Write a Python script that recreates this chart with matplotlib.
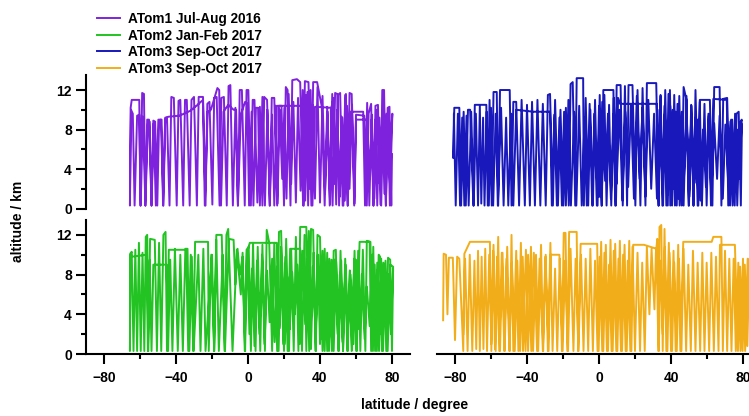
import matplotlib
matplotlib.use("Agg")
import matplotlib.pyplot as plt

plt.rcParams['font.family'] = ['Liberation Sans', 'DejaVu Sans']
plt.rcParams['font.weight'] = 'bold'

# ---------------- data: (latitude, altitude km) flight track vertices ----------------
atom1_track = [
    (80.0, 5.5), (79.6, 0.3), (78.6, 10.3), (77.6, 10.2), (76.6, 0.3), (75.6, 12.0), (74.6, 12.0),
    (73.6, 0.4), (72.2, 10.5), (70.8, 10.4), (69.8, 0.3), (68.4, 10.6), (67.0, 9.6), (66.0, 0.3),
    (64.6, 9.4), (60.0, 9.5), (59.0, 0.3), (57.6, 11.6), (56.4, 11.7), (55.4, 0.3), (54.0, 11.5),
    (52.6, 0.3), (51.2, 11.7), (50.0, 11.5), (49.0, 0.4), (47.6, 11.2), (46.4, 10.3), (45.4, 0.3),
    (44.0, 10.3), (42.6, 0.3), (41.0, 10.3), (38.4, 12.8), (36.2, 12.8), (35.2, 0.3), (33.6, 12.8),
    (31.6, 12.9), (30.6, 0.3), (29.0, 12.8), (27.2, 13.1), (24.6, 13.0), (23.6, 0.3), (22.0, 12.0),
    (21.0, 12.3), (20.0, 0.3), (18.6, 10.4), (17.2, 10.4), (16.2, 0.3), (14.6, 11.2), (13.2, 11.2),
    (12.2, 0.3), (10.6, 11.0), (9.0, 11.3), (8.0, 0.3), (6.6, 10.3), (5.2, 0.6), (3.6, 11.0),
    (2.6, 11.0), (1.6, 0.3), (0.2, 12.0), (-0.8, 12.0), (-1.8, 0.3), (-3.4, 12.0), (-4.6, 12.0),
    (-5.6, 0.3), (-7.0, 10.2), (-8.4, 0.3), (-9.8, 12.5), (-10.8, 12.4), (-11.8, 0.3), (-13.4, 11.3),
    (-14.8, 11.2), (-15.8, 0.3), (-17.4, 11.3), (-18.8, 11.2), (-19.8, 0.4), (-21.4, 10.8),
    (-22.6, 10.6), (-23.6, 0.3), (-25.0, 11.3), (-27.4, 11.3), (-28.4, 0.3), (-30.0, 11.3),
    (-31.4, 11.0), (-32.4, 0.3), (-34.0, 11.0), (-35.0, 11.0), (-36.0, 0.3), (-37.6, 11.0),
    (-38.6, 10.9), (-39.6, 0.3), (-41.2, 11.2), (-42.6, 11.3), (-43.6, 0.3), (-45.0, 9.2),
    (-46.0, 9.0), (-47.0, 0.3), (-48.4, 9.0), (-49.4, 8.8), (-50.4, 0.3), (-51.6, 8.8), (-52.6, 8.9),
    (-53.6, 0.3), (-55.0, 9.0), (-56.0, 9.0), (-57.0, 0.3), (-57.8, 11.6), (-58.8, 11.7),
    (-59.8, 0.3), (-60.4, 11.0), (-64.6, 11.0), (-65.2, 10.2), (-65.6, 0.3),
    (-65.0, 10.0), (-64.0, 9.6), (-63.0, 0.3), (-61.6, 9.4), (-60.4, 9.5), (-59.6, 0.3),
    (-58.4, 9.3), (-57.0, 0.3), (-55.6, 8.6), (-54.6, 8.8), (-53.6, 0.3), (-52.4, 8.6), (-51.2, 0.3),
    (-49.8, 9.0), (-48.0, 9.0), (-47.2, 0.3), (-46.0, 9.2), (-44.0, 9.3), (-38.0, 9.4), (-32.0, 9.9),
    (-28.0, 10.5), (-25.0, 11.0), (-24.0, 0.3), (-22.4, 9.8), (-20.6, 10.0), (-17.0, 12.2),
    (-16.0, 12.0), (-15.0, 0.3), (-13.6, 9.8), (-11.0, 10.5), (-8.0, 10.0), (-6.6, 10.0),
    (-5.6, 0.3), (-4.0, 9.5), (-1.6, 10.8), (-0.4, 10.6), (0.6, 0.3), (2.0, 9.8), (3.0, 0.3),
    (4.4, 10.2), (5.6, 10.2),
    (6.6, 0.3), (8.0, 11.3), (9.4, 0.3), (10.8, 10.0), (12.0, 0.3), (13.4, 9.5), (14.6, 0.3),
    (16.0, 10.4), (30.0, 10.4), (31.0, 0.3), (32.4, 11.5), (33.4, 0.3), (34.8, 12.0), (35.8, 0.3),
    (37.2, 10.3), (46.0, 10.2), (47.0, 0.3), (48.4, 11.7), (49.6, 11.6), (50.6, 0.3), (52.0, 9.3),
    (53.0, 0.3), (54.4, 11.6), (55.4, 0.3), (57.0, 9.8), (64.0, 9.8), (65.0, 0.3), (66.2, 10.7),
    (67.4, 0.3), (68.6, 9.0), (69.6, 0.3), (70.8, 9.0), (71.8, 0.3), (73.0, 9.2), (74.0, 0.3),
    (75.4, 11.9), (76.6, 0.3), (77.8, 9.8), (78.8, 0.3), (79.6, 8.0), (80.2, 9.6),
    (79.0, 2.0), (77.0, 9.6), (75.8, 1.5), (74.6, 9.4), (73.2, 2.5), (71.6, 10.0), (70.2, 1.0),
    (68.8, 9.5), (67.4, 3.0), (66.0, 9.0), (60.0, 9.0), (59.2, 0.5), (57.8, 10.5), (56.4, 2.0),
    (55.0, 10.4), (53.8, 0.8), (52.4, 9.2), (51.0, 1.2), (49.6, 10.0), (48.2, 2.5), (46.8, 11.6),
    (45.6, 0.5), (44.2, 9.8), (42.8, 1.5), (41.4, 11.4), (40.0, 0.6), (38.6, 12.3), (37.2, 1.0),
    (35.8, 10.5), (34.4, 2.0), (33.0, 11.8), (31.8, 0.8), (30.4, 12.0), (29.2, 1.8), (27.8, 11.2),
    (26.6, 0.6), (25.2, 10.8), (24.0, 2.5), (22.6, 11.6), (21.4, 1.0), (20.2, 10.2), (19.0, 3.0),
    (17.6, 10.0), (16.4, 0.5), (15.0, 10.4),
]

atom2_track = [
    (80.6, 8.5), (80.0, 0.3), (79.0, 9.5), (77.8, 9.7), (76.8, 0.3), (75.6, 9.0), (74.4, 0.3),
    (73.4, 9.8), (72.6, 10.0), (71.6, 0.3), (70.4, 9.0), (69.4, 0.3), (68.0, 11.3), (66.0, 11.4),
    (65.2, 0.3), (63.8, 10.5), (62.4, 0.3), (61.2, 10.4), (60.2, 0.3), (59.0, 9.6), (57.8, 0.4),
    (56.6, 8.4), (55.4, 0.3), (54.0, 9.6), (52.8, 0.3), (51.4, 10.4), (50.2, 0.3), (48.8, 10.5),
    (47.6, 10.4), (46.6, 0.3), (45.2, 9.6), (44.0, 0.3), (42.6, 10.6), (41.4, 0.3), (40.0, 11.8),
    (38.6, 12.0), (37.6, 0.3), (36.2, 12.5), (35.0, 12.6), (34.0, 0.3), (32.4, 12.8), (29.0, 12.8),
    (28.0, 0.3), (26.6, 11.8), (25.4, 0.3), (24.0, 10.5), (22.8, 0.3), (21.2, 11.6), (20.0, 0.3),
    (18.4, 12.4), (17.2, 12.3), (16.2, 0.3), (14.6, 11.2), (13.4, 0.3), (11.8, 11.2), (10.4, 12.5),
    (9.4, 0.3), (8.0, 11.0), (6.8, 0.3), (5.4, 10.8), (4.2, 0.3), (2.8, 11.2), (1.6, 0.3),
    (0.4, 10.8), (-0.8, 10.5), (-1.8, 0.3), (-3.0, 10.2), (-4.0, 6.0), (-6.2, 10.5), (-8.6, 0.3),
    (-11.0, 12.6), (-12.0, 12.0), (-13.0, 0.3), (-14.6, 12.0), (-17.6, 12.0), (-18.8, 0.3),
    (-20.4, 10.0), (-21.8, 0.3), (-22.2, 11.3), (-29.4, 11.3), (-30.4, 0.3), (-31.8, 10.0),
    (-33.2, 0.3), (-34.4, 10.5), (-44.0, 10.5), (-45.0, 0.3), (-45.8, 12.3), (-47.0, 12.0),
    (-48.2, 0.3), (-49.4, 11.2), (-50.6, 0.3), (-51.8, 11.5), (-54.4, 11.6), (-55.4, 0.3),
    (-56.0, 12.0), (-56.8, 11.8), (-57.6, 0.3), (-58.6, 10.2), (-59.6, 0.3), (-60.6, 11.2),
    (-61.6, 0.3), (-62.6, 10.5), (-63.6, 0.3), (-64.6, 10.3), (-65.4, 10.0), (-65.6, 0.3),
    (-65.2, 10.2), (-64.6, 9.8), (-56.4, 10.0), (-55.6, 0.3), (-54.6, 9.5), (-53.6, 0.3),
    (-52.6, 9.0), (-45.2, 9.0), (-44.4, 0.3), (-43.2, 9.5), (-42.0, 0.3), (-40.6, 10.6),
    (-39.0, 0.3), (-37.6, 10.0), (-36.2, 0.3), (-34.8, 10.6), (-33.6, 10.6), (-32.6, 0.3),
    (-31.2, 9.8), (-30.2, 0.3), (-27.6, 10.0), (-26.4, 0.3), (-24.8, 10.6), (-23.6, 0.3),
    (-20.0, 10.0), (-18.8, 0.3), (-17.6, 11.5), (-16.2, 0.3), (-14.0, 10.0), (-12.8, 0.3),
    (-10.6, 11.6), (-8.0, 11.5), (-7.0, 7.0), (-5.8, 10.6), (-4.6, 8.0), (-3.0, 9.8), (-1.6, 0.3),
    (-0.6, 10.2), (1.0, 11.2), (16.0, 11.2), (17.0, 0.3), (18.4, 10.8), (19.6, 1.0), (20.8, 9.8),
    (22.0, 0.3), (23.4, 10.6), (29.0, 10.6), (30.0, 0.3), (31.4, 12.0), (32.4, 0.3), (33.8, 12.4),
    (35.0, 0.5), (36.4, 10.2), (37.6, 0.3), (38.8, 10.0), (40.0, 1.0), (41.4, 10.4), (42.6, 0.3),
    (44.0, 10.2), (45.0, 0.3), (46.4, 9.5), (47.6, 0.3), (49.0, 9.3), (50.4, 0.3), (51.8, 9.4),
    (52.8, 0.3), (54.0, 8.2), (55.2, 0.3), (56.6, 8.4), (57.6, 0.3), (59.2, 10.4), (60.4, 0.3),
    (62.0, 11.3), (67.6, 11.3), (68.4, 0.3), (69.6, 10.8), (70.6, 0.3), (71.8, 9.2), (72.8, 0.3),
    (74.0, 9.6), (75.0, 0.3), (76.4, 9.4), (77.6, 0.3), (79.0, 9.0), (80.6, 8.8),
    (79.4, 2.0), (78.0, 8.0), (76.8, 3.0), (75.2, 9.2), (73.6, 2.0), (72.0, 8.5), (70.6, 3.5),
    (69.0, 10.0), (67.6, 2.8), (66.0, 6.8), (64.8, 1.5), (63.2, 8.0), (61.8, 2.5), (60.0, 9.5),
    (58.6, 1.0), (57.0, 8.0), (55.6, 3.0), (54.2, 9.0), (52.6, 1.2), (51.0, 8.0), (49.8, 2.0),
    (48.2, 9.5), (46.8, 0.8), (45.2, 8.2), (43.6, 2.0), (42.0, 9.2), (40.6, 1.5), (39.0, 10.0),
    (37.6, 2.0), (36.0, 8.8), (34.6, 1.0), (33.0, 9.6), (31.8, 3.0), (30.2, 10.4), (28.8, 1.0),
    (27.4, 9.0), (26.0, 4.0), (24.6, 8.2), (23.2, 2.5), (21.8, 7.8), (20.4, 1.0), (19.0, 9.2),
    (17.6, 2.6), (16.2, 8.8), (14.8, 1.2), (13.4, 9.6), (12.0, 3.2), (10.6, 8.4), (9.2, 1.0),
    (7.8, 10.0), (6.4, 2.0), (5.0, 9.4), (3.6, 0.8), (2.2, 8.6), (0.8, 2.0), (-0.4, 10.0),
]

atom3_track = [
    (79.4, 8.5), (78.8, 0.3), (77.6, 9.8), (76.4, 9.6), (75.4, 0.3), (74.0, 9.0), (72.8, 0.3),
    (71.2, 11.2), (69.0, 11.1), (68.0, 0.3), (67.0, 12.3), (64.0, 12.3), (63.0, 0.3), (61.6, 11.0),
    (56.0, 11.0), (55.2, 0.3), (53.6, 12.0), (52.6, 0.3), (51.2, 10.5), (50.0, 0.3), (48.6, 11.0),
    (47.0, 12.3), (46.0, 0.3), (44.6, 11.4), (43.2, 0.3), (41.8, 11.5), (40.6, 0.3), (39.4, 12.0),
    (38.2, 0.3), (36.8, 12.0), (35.6, 0.3), (34.2, 11.5), (33.2, 0.3), (31.8, 12.7), (26.6, 12.7),
    (25.8, 0.3), (24.2, 12.2), (23.0, 0.3), (21.4, 12.0), (20.2, 0.3), (18.6, 12.5), (16.4, 12.5),
    (15.6, 0.3), (14.4, 12.4), (13.2, 0.3), (12.0, 12.5), (9.8, 12.5),
    (9.0, 0.3), (8.0, 12.0), (2.4, 12.0), (1.6, 0.3), (0.4, 11.5), (-0.8, 0.3), (-2.2, 11.0),
    (-3.4, 0.3), (-4.8, 10.0), (-6.0, 0.3), (-7.4, 11.2), (-8.4, 0.3), (-8.8, 13.2), (-12.4, 13.2),
    (-13.2, 0.3), (-14.6, 12.8), (-15.8, 12.6), (-16.8, 0.3), (-18.4, 10.2), (-19.8, 0.3),
    (-21.4, 10.0), (-22.8, 0.3), (-24.4, 11.0), (-25.6, 0.3), (-27.2, 11.6), (-28.4, 11.5),
    (-29.6, 0.3), (-31.2, 10.6), (-32.6, 0.3), (-34.2, 11.0), (-35.6, 0.3), (-37.2, 10.8),
    (-38.4, 0.3), (-40.0, 10.5), (-41.2, 0.3), (-43.0, 11.0), (-44.4, 0.3), (-46.0, 10.8),
    (-47.6, 10.8), (-48.6, 0.3), (-49.6, 12.0), (-55.0, 12.0), (-56.0, 0.3), (-56.8, 11.8),
    (-58.6, 11.8), (-59.6, 0.3), (-60.8, 11.0), (-61.8, 0.3), (-62.6, 10.5), (-69.0, 10.5),
    (-69.8, 0.3), (-71.6, 10.0), (-72.8, 10.0), (-74.0, 0.3), (-75.2, 9.8), (-76.6, 0.3),
    (-77.6, 10.2), (-80.4, 10.2), (-80.9, 5.1),
    (-80.6, 9.6), (-79.6, 0.3), (-78.4, 9.6), (-77.2, 0.3), (-76.0, 9.2), (-74.8, 0.3),
    (-73.6, 9.4), (-72.4, 0.3), (-71.0, 9.8), (-69.6, 0.3), (-68.4, 9.6), (-67.2, 0.3),
    (-66.2, 10.4), (-65.4, 0.5), (-64.4, 9.2), (-63.6, 0.3), (-62.4, 9.8), (-61.2, 0.3),
    (-60.0, 10.2), (-58.8, 0.3), (-57.4, 9.6), (-56.2, 0.3), (-54.4, 10.2), (-53.0, 0.3),
    (-51.6, 9.2), (-50.4, 0.3), (-48.8, 9.6), (-47.6, 0.3), (-46.0, 10.0), (-36.5, 9.8),
    (-27.2, 9.8), (-26.2, 0.3), (-24.8, 9.5), (-23.4, 0.3), (-22.0, 9.2), (-20.6, 0.3),
    (-19.4, 9.8), (-18.4, 0.3), (-17.0, 11.0), (-15.6, 0.3), (-13.8, 9.8), (-12.6, 0.3),
    (-11.0, 10.4), (-9.6, 0.3), (-8.0, 9.2), (-6.8, 0.3), (-5.2, 10.6), (-3.8, 0.3), (-2.6, 9.6),
    (-1.2, 0.3), (0.0, 10.4), (1.4, 0.3), (3.0, 11.5), (4.2, 0.3), (5.6, 10.5), (6.8, 0.3),
    (8.2, 9.6), (9.4, 0.3), (10.6, 11.2), (11.7, 10.6), (32.0, 10.6), (33.0, 0.3), (34.2, 11.4),
    (35.2, 0.3), (36.4, 10.4), (37.4, 0.3), (38.6, 11.6), (39.6, 0.3), (41.0, 10.0), (42.2, 0.3),
    (43.6, 10.6), (44.8, 0.3), (46.0, 9.8), (47.0, 0.3), (48.6, 11.4), (49.8, 0.3), (51.4, 10.4),
    (52.4, 0.3), (53.6, 9.2), (54.8, 0.3), (56.0, 10.8), (57.2, 0.3), (58.6, 10.6), (59.8, 0.3),
    (61.0, 9.4), (62.2, 0.3), (63.5, 11.1), (71.0, 11.0), (71.8, 0.3), (73.0, 8.8), (74.2, 0.3),
    (75.6, 9.6), (76.8, 0.3), (78.2, 8.6), (79.3, 9.0),
    (78.0, 3.0), (76.6, 8.0), (75.0, 1.5), (73.4, 9.0), (71.8, 2.5), (70.2, 8.5), (68.8, 1.0),
    (67.0, 9.4), (65.6, 3.0), (64.0, 8.6), (62.4, 1.2), (60.8, 9.6), (59.4, 2.2), (57.8, 8.0),
    (56.4, 0.8), (54.8, 9.0), (53.2, 2.6), (51.6, 8.8), (50.2, 1.2), (48.6, 9.4), (47.2, 3.0),
    (45.6, 8.2), (44.2, 1.0), (42.6, 9.8), (41.2, 2.0), (39.6, 10.4), (38.2, 1.4), (36.6, 9.6),
    (35.2, 2.8), (33.6, 10.0), (32.2, 1.0), (30.6, 9.6), (29.0, 2.0), (27.4, 11.0), (25.8, 1.2),
    (24.2, 10.2), (22.6, 3.0), (21.0, 11.4), (19.4, 1.0), (17.8, 10.6), (16.2, 2.2), (14.6, 9.8),
    (13.0, 0.8), (11.4, 10.0), (9.8, 2.5), (8.2, 11.2), (6.6, 1.0), (5.0, 9.6), (3.4, 2.8),
    (1.8, 10.8), (0.2, 1.2),
]

atom4_track = [
    (-86.6, 3.4), (-86.3, 10.1), (-85.0, 10.0), (-84.2, 4.0), (-83.4, 9.7), (-81.2, 9.7),
    (-80.0, 1.4), (-78.8, 9.8), (-77.6, 9.6), (-75.4, 0.3), (-74.8, 10.1), (-71.7, 11.3),
    (-60.6, 11.3), (-59.8, 0.3), (-58.6, 11.0), (-57.4, 0.3), (-56.0, 11.8), (-55.0, 0.3),
    (-53.6, 10.2), (-52.4, 0.3), (-51.0, 10.8), (-49.6, 0.3), (-48.6, 12.0), (-47.6, 0.3),
    (-46.0, 10.4), (-44.8, 0.3), (-43.4, 11.2), (-42.2, 0.3), (-40.6, 10.5), (-39.4, 0.3),
    (-37.8, 10.8), (-36.6, 0.3), (-35.0, 10.0), (-33.8, 0.3), (-32.2, 11.0), (-31.0, 0.3),
    (-29.6, 10.0), (-28.4, 0.3), (-27.0, 11.2), (-25.8, 0.3), (-24.4, 8.6), (-23.2, 0.3),
    (-21.8, 9.6), (-20.6, 0.3), (-19.6, 12.2), (-18.6, 12.2), (-17.6, 0.3), (-16.6, 12.3),
    (-12.4, 12.3), (-11.6, 0.3), (-10.2, 11.1), (-1.0, 11.1), (-0.2, 0.3), (1.2, 11.3), (2.4, 0.3),
    (3.8, 11.0), (5.0, 0.3), (6.4, 11.5), (7.6, 0.3), (9.0, 11.1), (10.2, 0.3), (11.6, 11.4),
    (12.8, 0.3), (14.2, 11.0), (15.4, 0.3), (16.8, 11.4), (18.0, 0.3), (19.0, 11.0), (25.0, 11.0),
    (32.0, 10.6), (33.0, 0.3), (33.6, 12.8), (34.6, 13.0), (35.4, 0.3), (36.4, 12.6), (37.4, 0.3),
    (38.8, 11.2), (40.0, 0.3), (41.4, 10.4), (42.6, 0.3), (44.0, 11.0), (45.2, 0.3), (46.8, 11.3),
    (62.6, 11.3), (63.5, 11.8), (68.0, 11.8), (68.8, 0.3), (70.0, 10.4), (71.2, 0.3), (72.4, 9.6),
    (73.6, 0.3), (74.8, 9.6), (76.0, 0.3), (77.4, 9.2), (78.6, 0.3), (80.0, 9.6), (81.2, 0.3),
    (82.6, 9.6), (83.6, 9.5),
    (82.4, 0.8), (81.0, 9.0), (79.8, 0.3), (78.4, 8.8), (77.2, 0.3), (75.5, 11.0), (67.2, 11.0),
    (66.4, 0.3), (65.0, 9.8), (63.8, 0.3), (62.4, 10.2), (61.2, 0.3), (59.8, 9.2), (58.6, 0.3),
    (57.4, 10.2), (56.2, 0.3), (54.8, 9.2), (53.6, 0.3), (52.2, 10.4), (51.0, 0.3), (49.6, 9.0),
    (48.4, 0.3), (47.0, 10.6), (45.8, 0.3), (44.4, 9.6), (43.2, 0.3), (41.8, 9.2), (40.6, 0.3),
    (39.2, 10.2), (38.0, 0.3), (36.6, 10.8), (35.4, 2.0), (34.2, 9.4), (33.2, 0.3), (32.4, 11.6),
    (31.6, 10.2), (30.8, 4.5), (29.2, 10.6), (28.0, 4.0), (26.6, 10.8), (25.4, 0.3), (24.0, 9.2),
    (22.8, 0.3), (21.4, 10.2), (20.0, 0.3), (18.6, 10.8), (17.4, 0.3), (16.0, 9.4), (14.8, 0.3),
    (13.4, 10.0), (12.2, 0.3), (10.8, 9.6), (9.6, 0.3), (8.2, 10.4), (7.0, 0.3), (5.6, 9.0),
    (4.4, 0.3), (3.0, 10.2), (1.8, 0.3), (0.4, 9.8), (-0.8, 0.3), (-2.2, 9.4), (-3.4, 0.3),
    (-4.8, 10.6), (-6.0, 0.3), (-7.4, 9.6), (-8.6, 0.3), (-10.0, 10.0), (-11.4, 0.3), (-13.0, 9.6),
    (-14.2, 0.3), (-15.8, 10.6), (-17.2, 0.3), (-18.8, 9.4), (-20.2, 0.3), (-22.0, 10.0),
    (-27.0, 10.0), (-28.0, 0.3), (-29.8, 9.8), (-31.2, 0.3), (-33.0, 9.6), (-34.4, 0.3),
    (-36.2, 10.2), (-37.6, 0.3), (-39.4, 10.0), (-40.8, 0.3), (-42.4, 9.8), (-43.8, 0.3),
    (-45.4, 9.4), (-46.8, 0.3), (-48.4, 9.2), (-49.8, 0.3), (-51.4, 9.6), (-52.6, 0.3),
    (-54.0, 10.2), (-55.4, 0.3), (-56.6, 9.8), (-57.8, 0.5), (-58.8, 10.4), (-59.8, 1.0),
    (-61.0, 10.0), (-62.2, 0.3), (-63.2, 10.6), (-64.2, 0.5), (-65.2, 9.8), (-66.2, 0.3),
    (-67.2, 10.4), (-68.2, 0.5), (-69.2, 9.4), (-70.4, 0.3), (-71.8, 10.0), (-73.0, 0.3),
    (-74.4, 9.6), (-75.4, 2.0),
]

labels = ["ATom1 Jul-Aug 2016", "ATom2 Jan-Feb 2017", "ATom3 Sep-Oct 2017", "ATom3 Sep-Oct 2017"]
colors = ["#7F22DD", "#22C322", "#1818BB", "#F2AE1A"]
x_ticks = [-80, -40, 0, 40, 80]
y_ticks = [0, 4, 8, 12]

# ---------------- layout ----------------
W, H = 749, 416
fig = plt.figure(figsize=(W / 100, H / 100), dpi=100)

def add_ax(x0, y_top, x1, y_bot):
    return fig.add_axes([x0 / W, 1 - y_bot / H, (x1 - x0) / W, (y_bot - y_top) / H])

ax_tl = add_ax(86, 75.2, 410, 208.5)
ax_tr = add_ax(437, 75.2, 761, 208.5)
ax_bl = add_ax(86, 220.0, 410, 354.0)
ax_br = add_ax(437, 220.0, 761, 354.0)

tracks = [atom1_track, atom3_track, atom2_track, atom4_track]
cols = [colors[0], colors[2], colors[1], colors[3]]
axes = [ax_tl, ax_tr, ax_bl, ax_br]
lines = {}
for ax, tr, c in zip(axes, tracks, cols):
    lat = [p[0] for p in tr]
    alt = [p[1] for p in tr]
    ln, = ax.plot(lat, alt, color=c, lw=1.4, solid_joinstyle='round', clip_on=False)
    lines[c] = ln
    ax.set_xlim(-90, 90)
    ax.set_ylim(0, 13.5)
    for s in ax.spines.values():
        s.set_visible(False)
        s.set_linewidth(1.5)
    ax.set_facecolor('none')
    ax.tick_params(which='major', length=7.2, width=1.5, labelsize=10, pad=3)
    ax.tick_params(which='minor', length=3.6, width=1.5)
    ax.set_xticks(x_ticks)
    ax.set_xticks([-60, -20, 20, 60], minor=True)
    ax.set_yticks(y_ticks)
    ax.set_yticks([2, 6, 10], minor=True)

for ax in (ax_tl, ax_bl):
    ax.spines['left'].set_visible(True)
    ax.tick_params(axis='y', which='both', left=True, labelleft=True)
for ax in (ax_tr, ax_br):
    ax.tick_params(axis='y', which='both', left=False, labelleft=False)
for ax in (ax_bl, ax_br):
    ax.spines['bottom'].set_visible(True)
    ax.tick_params(axis='x', which='both', bottom=True, labelbottom=True, pad=5)
for ax in (ax_tl, ax_tr):
    ax.tick_params(axis='x', which='both', bottom=False, labelbottom=False)

for ax in axes:
    for lab in ax.get_xticklabels() + ax.get_yticklabels():
        lab.set_fontweight('bold')

fig.text(18 / W, 1 - 221 / H, "altitude / km", rotation=90, ha='center', va='center',
         fontsize=10, fontweight='bold')
fig.text(415 / W, 1 - 405 / H, "latitude / degree", ha='center', va='center',
         fontsize=10, fontweight='bold')

fig.legend([lines[colors[0]], lines[colors[1]], lines[colors[2]], lines[colors[3]]], labels,
           loc='upper left', bbox_to_anchor=(97 / W, 1 - 12 / H), frameon=False,
           borderpad=0, borderaxespad=0, handlelength=1.7,
           handletextpad=0.6, labelspacing=0.19, prop={'weight': 'bold', 'size': 9.8})

fig.savefig("out.png", dpi=100)
